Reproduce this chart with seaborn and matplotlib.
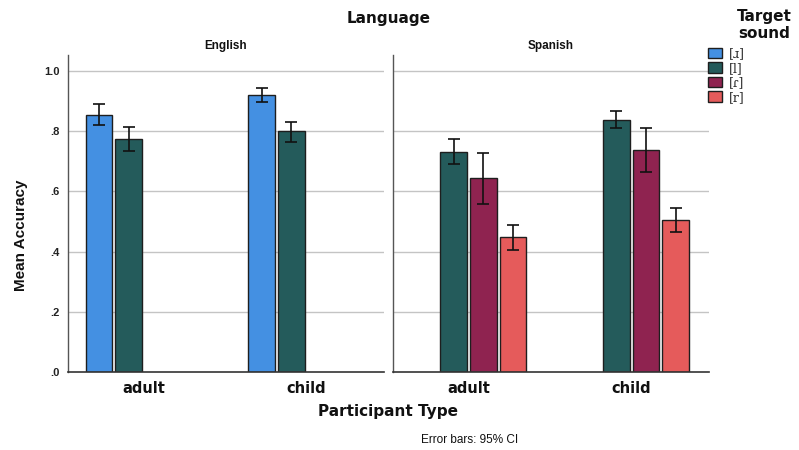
import matplotlib
matplotlib.use("Agg")
import matplotlib.pyplot as plt
from matplotlib.patches import Patch
import seaborn as sns
import pandas as pd

# Mean accuracy per language / participant type / target sound, with 95% CI bounds
language = ["English", "English", "English", "English",
            "Spanish", "Spanish", "Spanish", "Spanish", "Spanish", "Spanish"]
participant = ["adult", "adult", "child", "child",
               "adult", "adult", "adult", "child", "child", "child"]
sound = ["[ɹ]", "[l]", "[ɹ]", "[l]",
         "[l]", "[ɾ]", "[r]", "[l]", "[ɾ]", "[r]"]
mean_acc = [0.853, 0.773, 0.919, 0.799, 0.730, 0.643, 0.448, 0.837, 0.737, 0.505]
ci_low = [0.821, 0.735, 0.896, 0.764, 0.691, 0.558, 0.405, 0.809, 0.664, 0.464]
ci_high = [0.890, 0.814, 0.942, 0.831, 0.773, 0.727, 0.489, 0.866, 0.809, 0.546]

languages = ["English", "Spanish"]
participant_order = ["adult", "child"]
sound_order = ["[ɹ]", "[l]", "[ɾ]", "[r]"]
sound_colors = ["#4490E2", "#245B5B", "#8F2350", "#E55B5B"]
y_ticks = [0.0, 0.2, 0.4, 0.6, 0.8, 1.0]
y_tick_labels = [".0", ".2", ".4", ".6", ".8", "1.0"]

df = pd.DataFrame({
    "Language": language, "Participant Type": participant, "Target sound": sound,
    "Mean Accuracy": mean_acc, "lo": ci_low, "hi": ci_high,
})

sns.set_theme(style="white")
palette = dict(zip(sound_order, sound_colors))

fig = plt.figure(figsize=(7.99, 4.5), dpi=100)
panel_left = [0.0851, 0.4919]
axes = [fig.add_axes([l, 0.1727, 0.3955, 0.705]) for l in panel_left]

for ax, lang in zip(axes, languages):
    sub = df[df["Language"] == lang]
    ax.set_axisbelow(True)
    for t in y_ticks[1:]:
        ax.axhline(t, color="#C4C4C4", lw=1.0, zorder=0)
    sns.barplot(data=sub, x="Participant Type", y="Mean Accuracy",
                hue="Target sound", order=participant_order, hue_order=sound_order,
                palette=palette, saturation=1, width=0.73, gap=0.1, errorbar=None,
                edgecolor="#1E1E1E", linewidth=1.0, legend=False, ax=ax, zorder=2)
    # CI whiskers at each bar's centre
    for bar in ax.patches:
        h = bar.get_height()
        match = sub[(sub["Mean Accuracy"] - h).abs() < 1e-9]
        if match.empty:
            continue
        row = match.iloc[0]
        xc = bar.get_x() + bar.get_width() / 2
        ax.errorbar(xc, h, yerr=[[h - row["lo"]], [row["hi"] - h]],
                    fmt="none", ecolor="#111111", elinewidth=1.2,
                    capsize=4, capthick=1.2, zorder=3)
    ax.set_xlim(-0.465, 1.48)
    ax.set_ylim(0, 1.052)
    ax.set_yticks(y_ticks)
    ax.set_xlabel("")
    ax.set_ylabel("")
    ax.tick_params(axis="both", length=0)
    ax.set_xticks(range(len(participant_order)))
    ax.set_xticklabels(participant_order, fontsize=10.5, fontweight="bold",
                       family="DejaVu Sans", color="#111111")
    ax.tick_params(axis="x", pad=6)
    for side in ["top", "right"]:
        ax.spines[side].set_visible(False)
    ax.spines["left"].set_color("#555555")
    ax.spines["bottom"].set_color("#333333")
    ax.spines["left"].set_linewidth(1.0)
    ax.spines["bottom"].set_linewidth(1.2)
    ax.set_title(lang, fontsize=8.5, fontweight="bold", family="Liberation Sans",
                 color="#111111", pad=4)

axes[0].set_yticklabels(y_tick_labels, fontsize=8, fontweight="bold",
                        family="Liberation Sans", color="#222222")
axes[0].tick_params(axis="y", pad=6)
axes[1].set_yticklabels([])

fig.text(0.026, 0.478, "Mean Accuracy", rotation=90, ha="center", va="center",
         fontsize=11, fontweight="bold", family="Liberation Sans", color="#111111")
fig.text(0.486, 0.96, "Language", ha="center", va="center",
         fontsize=11, fontweight="bold", family="DejaVu Sans", color="#111111")
fig.text(0.486, 0.085, "Participant Type", ha="center", va="center",
         fontsize=11, fontweight="bold", family="DejaVu Sans", color="#111111")
fig.text(0.588, 0.022, "Error bars: 95% CI", ha="center", va="center",
         fontsize=8.5, family="Liberation Sans", color="#111111")

# Legend: title sits to the right, above the colour swatches
fig.text(0.957, 0.945, "Target\nsound", ha="center", va="center",
         fontsize=11, fontweight="bold", family="DejaVu Sans", color="#111111",
         linespacing=1.15)
handles = [Patch(facecolor=c, edgecolor="#1E1E1E", linewidth=1.0) for c in sound_colors]
fig.legend(handles, sound_order, loc="upper left",
           bbox_to_anchor=(0.886, 0.895), frameon=False,
           handlelength=1.1, handleheight=0.95, handletextpad=0.6,
           labelspacing=0.12, borderaxespad=0.0, borderpad=0.0,
           prop={"family": "DejaVu Serif", "size": 9})

fig.savefig("out.png", dpi=100)
